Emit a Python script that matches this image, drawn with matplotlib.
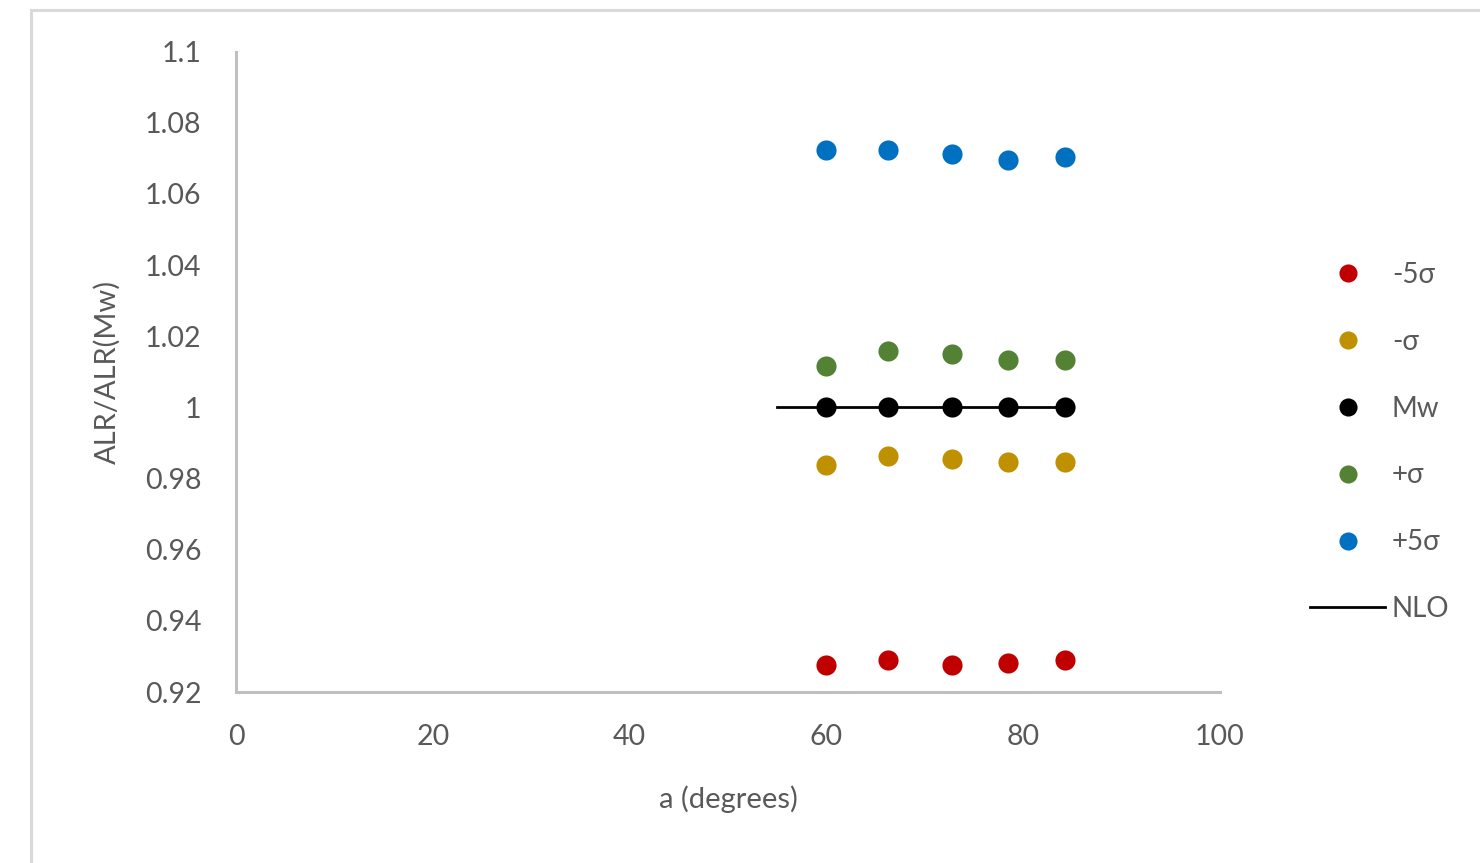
import matplotlib
matplotlib.use('Agg')
import matplotlib.pyplot as plt
from matplotlib.patches import Rectangle
from matplotlib.ticker import FuncFormatter

# Angles (degrees) shared by every series
angle = [60, 66.25, 72.75, 78.5, 84.25]

# ALR normalised to the Mw value
minus_5sigma = [0.9275, 0.9290, 0.9275, 0.9282, 0.9290]
minus_sigma = [0.9838, 0.9864, 0.9854, 0.9846, 0.9846]
mw = [1.0, 1.0, 1.0, 1.0, 1.0]
plus_sigma = [1.0116, 1.0158, 1.0150, 1.0133, 1.0133]
plus_5sigma = [1.0722, 1.0722, 1.0712, 1.0695, 1.0704]

# NLO reference line
nlo_x = [55, 84.25]
nlo_y = [1.0, 1.0]

series_labels = ['-5σ', '-σ', 'Mw', '+σ', '+5σ']
series_colors = ['#C00000', '#BF9000', '#000000', '#548235', '#0070C0']

x_ticks = [0, 20, 40, 60, 80, 100]
y_ticks = [0.92, 0.94, 0.96, 0.98, 1.0, 1.02, 1.04, 1.06, 1.08, 1.1]

plt.rcParams['font.family'] = ['Lato', 'DejaVu Sans']
text_color = '#595959'
axis_color = '#BFBFBF'

fig = plt.figure(figsize=(14.8, 8.63), dpi=100)
ax = fig.add_axes([236 / 1480, 1 - 692 / 863, 984 / 1480, 640.5 / 863])

# chart-area border
fig.patches.append(Rectangle((30.5 / 1480, 1 - 1650 / 863), 3000 / 1480, 1639.5 / 863,
                             transform=fig.transFigure, fill=False,
                             edgecolor='#D9D9D9', linewidth=2.2, zorder=0))

handles = []
for vals, lab, col in zip([minus_5sigma, minus_sigma, mw, plus_sigma, plus_5sigma],
                          series_labels, series_colors):
    h, = ax.plot(angle, vals, linestyle='none', marker='o', markersize=14.5,
                 color=col, markeredgewidth=0, label=lab, zorder=3)
    handles.append(h)
nlo, = ax.plot(nlo_x, nlo_y, color='black', linewidth=2.0, label='NLO', zorder=2)
handles.append(nlo)

ax.set_xlim(0, 100)
ax.set_ylim(0.92, 1.1)
ax.set_xticks(x_ticks)
ax.set_yticks(y_ticks)
ax.yaxis.set_major_formatter(FuncFormatter(lambda v, p: f'{v:g}'))

for side in ['top', 'right']:
    ax.spines[side].set_visible(False)
for side in ['left', 'bottom']:
    ax.spines[side].set_color(axis_color)
    ax.spines[side].set_linewidth(2.2)

ax.tick_params(axis='both', length=0, labelsize=20.5, labelcolor=text_color)
ax.tick_params(axis='y', pad=25)
ax.tick_params(axis='x', pad=23)

ax.set_xlabel('a (degrees)', fontsize=21, color=text_color)
ax.set_ylabel('ALR/ALR(Mw)', fontsize=21, color=text_color)
ax.xaxis.set_label_coords(0.5, -0.146)
ax.yaxis.set_label_coords(-0.117, 0.5)

fig.legend(handles=handles, loc='center left',
           bbox_to_anchor=(1310 / 1480, 1 - 442 / 863),
           frameon=False, fontsize=20, labelcolor=text_color,
           borderpad=0, borderaxespad=0, labelspacing=1.47,
           handlelength=2.7, handletextpad=0.25, markerscale=0.9)

fig.savefig('out.png', dpi=100, facecolor='white')
